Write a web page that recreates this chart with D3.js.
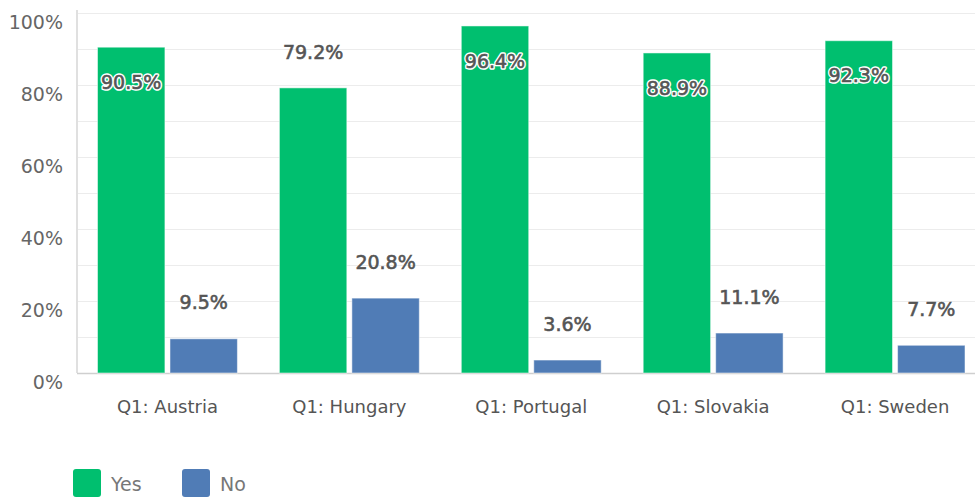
<!DOCTYPE html>
<html><head><meta charset="utf-8">
<script src="https://cdn.jsdelivr.net/npm/d3@7"></script>
<style>body{margin:0;background:#fff;} svg{display:block;font-family:"DejaVu Sans",sans-serif;}</style>
</head><body><svg id="c" width="975" height="499"></svg>
<script>
const categories = ["Q1: Austria","Q1: Hungary","Q1: Portugal","Q1: Slovakia","Q1: Sweden"];
const seriesNames = ["Yes","No"];
const yesValues = [90.5, 79.2, 96.4, 88.9, 92.3];
const noValues = [9.5, 20.8, 3.6, 11.1, 7.7];
const yTicks = [0,20,40,60,80,100];
const colors = ["#00BF6F","#507CB6"];

const svg = d3.select("#c");
const x0 = d3.scaleBand().domain(categories).range([76.5, 986]).paddingInner(0).paddingOuter(0);
const x1 = d3.scaleBand().domain(seriesNames).range([21, x0.bandwidth()-21]).paddingInner(0.07);
const y = d3.scaleLinear().domain([0,100]).range([373, 13]);

// gridlines every 10%
svg.append("g").selectAll("line").data(d3.range(10,101,10)).join("line")
  .attr("x1",77).attr("x2",975).attr("y1",d=>y(d)+0.5).attr("y2",d=>y(d)+0.5)
  .attr("stroke","#ececec").attr("stroke-width",1);
// axes
svg.append("line").attr("x1",77).attr("x2",77).attr("y1",10).attr("y2",373).attr("stroke","#e0e0e0").attr("stroke-width",2);
svg.append("line").attr("x1",77).attr("x2",975).attr("y1",373.5).attr("y2",373.5).attr("stroke","#cfcfcf").attr("stroke-width",1.5);

const yAxis = d3.axisLeft(y).tickValues(yTicks).tickFormat(d=>d+"%").tickSize(0).tickPadding(0);
const ya = svg.append("g").attr("transform","translate(63,9)").call(yAxis);
ya.select(".domain").remove();
ya.selectAll("text").attr("font-size",19).attr("fill","#666").attr("font-family","DejaVu Sans, sans-serif");

const xAxis = d3.axisBottom(x0).tickSize(0).tickPadding(0);
const xa = svg.append("g").attr("transform","translate(0,407)").call(xAxis);
xa.select(".domain").remove();
xa.selectAll("text").attr("font-size",18).attr("fill","#555").attr("font-family","DejaVu Sans, sans-serif").attr("y",0).attr("dy","0.35em");

const data = categories.map((c,i)=>({cat:c, vals:[{s:"Yes",v:yesValues[i]},{s:"No",v:noValues[i]}]}));
const groups = svg.selectAll("g.grp").data(data).join("g").attr("class","grp")
  .attr("transform",d=>`translate(${x0(d.cat)},0)`);
groups.selectAll("rect").data(d=>d.vals).join("rect")
  .attr("x",d=>x1(d.s)).attr("width",x1.bandwidth())
  .attr("y",d=>y(d.v)).attr("height",d=>y(0)-y(d.v))
  .attr("fill",(d,i)=>colors[i]).attr("stroke","rgba(255,255,255,0.5)").attr("stroke-width",1);

groups.selectAll("g.lbl").data(d=>d.vals).join("g").attr("class","lbl")
  .each(function(d){
    const top = y(d.v);
    const inside = top - 36 < 40;
    const ty = inside ? top + 35 : top - 36;
    const g = d3.select(this);
    const mk = () => g.append("text")
      .attr("x", x1(d.s)+x1.bandwidth()/2).attr("y", ty).attr("dy","0.35em")
      .attr("text-anchor","middle").attr("font-size",19)
      .text(d.v.toFixed(1)+"%");
    if(inside){ mk().attr("fill","#fff").attr("stroke","#fff").attr("stroke-width",3.5).attr("stroke-linejoin","round"); }
    mk().attr("fill","#555").attr("stroke","#555").attr("stroke-width",0.6);
  });

// legend
const leg = svg.append("g");
seriesNames.forEach((s,i)=>{
  const lx = [73,182][i];
  leg.append("rect").attr("x",lx).attr("y",469).attr("width",28).attr("height",28).attr("rx",3).attr("fill",colors[i]);
  leg.append("text").attr("x",lx+38).attr("y",484).attr("dy","0.35em").attr("font-size",19).attr("fill","#777")
    .text(s);
});
</script></body></html>
